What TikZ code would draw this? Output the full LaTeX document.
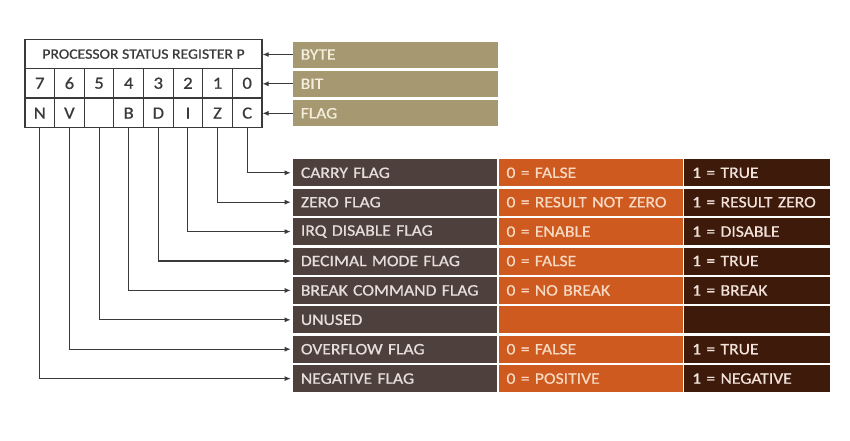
\documentclass[tikz,border=0pt]{standalone}
\usepackage{fontspec}
\setmainfont{Carlito}[FakeStretch=1.1,FakeBold=0.7]
\usetikzlibrary{arrows.meta}
\definecolor{lineC}{HTML}{3A3A3A}
\definecolor{tanC}{HTML}{A69870}
\definecolor{tanT}{HTML}{F4EEDD}
\definecolor{colA}{HTML}{4E403C}
\definecolor{colAT}{HTML}{E6DEDA}
\definecolor{colB}{HTML}{CE5A20}
\definecolor{colBT}{HTML}{F8D9C2}
\definecolor{colC}{HTML}{3D1A0A}
\definecolor{colCT}{HTML}{F2E2DA}
\tikzset{
  regtitle/.style={draw=lineC, line width=1.1pt, text=lineC, minimum width=237pt, minimum height=28.75pt, inner sep=0pt, font=\fontsize{14.3}{15}\selectfont},
  regcell/.style={draw=lineC, line width=1.1pt, text=lineC, minimum width=29.625pt, minimum height=29.5pt, inner sep=0pt, font=\fontsize{17}{18}\selectfont},
  cellbase/.style={anchor=west, minimum height=27pt, inner xsep=8pt, inner ysep=0pt, align=left, font=\fontsize{16}{17}\selectfont},
  tanbox/.style={cellbase, fill=tanC, text=tanT, minimum height=26pt, text width=188.8pt},
  colone/.style={cellbase, fill=colA, text=colAT, text width=188pt},
  coltwo/.style={cellbase, fill=colB, text=colBT, text width=168.4pt},
  colthree/.style={cellbase, fill=colC, text=colCT, text width=129.3pt},
  arr/.style={draw=lineC, line width=1.1pt, -{Latex[length=6pt,width=5pt]}},
}
\begin{document}
\begin{tikzpicture}[x=1pt,y=-1pt]
\useasboundingbox (0,0) rectangle (850,440);
\fill[white] (0,0) rectangle (850,440);
% register
\node[regtitle] (title) at (143.5,54.1) {PROCESSOR STATUS REGISTER P};
\foreach \i/\d/\f in {0/7/N,1/6/V,2/5/,3/4/B,4/3/D,5/2/I,6/1/Z,7/0/C}{
  \node[regcell] (b\d) at ({25+14.8125+29.625*\i},83.25) {\d};
  \node[regcell] (f\d) at ({25+14.8125+29.625*\i},113.1) {\f};
}
% tan boxes
\node[tanbox] (byte) at (292.5,54.5) {BYTE};
\node[tanbox] (bit) at (292.5,83.8) {BIT};
\node[tanbox] (flag) at (292.5,113.3) {FLAG};
\draw[arr] (byte.west) -- (byte.west -| title.east);
\draw[arr] (bit.west) -- (bit.west -| b0.east);
\draw[arr] (flag.west) -- (flag.west -| f0.east);
% table
\foreach \i/\n/\z/\o in {0/CARRY FLAG/0 = FALSE/1 = TRUE,
  1/ZERO FLAG/0 = RESULT NOT ZERO/1 = RESULT ZERO,
  2/IRQ DISABLE FLAG/0 = ENABLE/1 = DISABLE,
  3/DECIMAL MODE FLAG/0 = FALSE/1 = TRUE,
  4/BREAK COMMAND FLAG/0 = NO BREAK/1 = BREAK,
  5/UNUSED//,
  6/OVERFLOW FLAG/0 = FALSE/1 = TRUE,
  7/NEGATIVE FLAG/0 = POSITIVE/1 = NEGATIVE}{
  \node[colone] (r\i) at (292.7,{172.8+29.4*\i}) {\n};
  \node[coltwo] (z\i) at (498.3,{172.8+29.4*\i}) {\z};
  \node[colthree] (o\i) at (684,{172.8+29.4*\i}) {\o};
  \draw[arr, shorten >=2pt] (f\i.south) |- (r\i.west);
}
\end{tikzpicture}
\end{document}
